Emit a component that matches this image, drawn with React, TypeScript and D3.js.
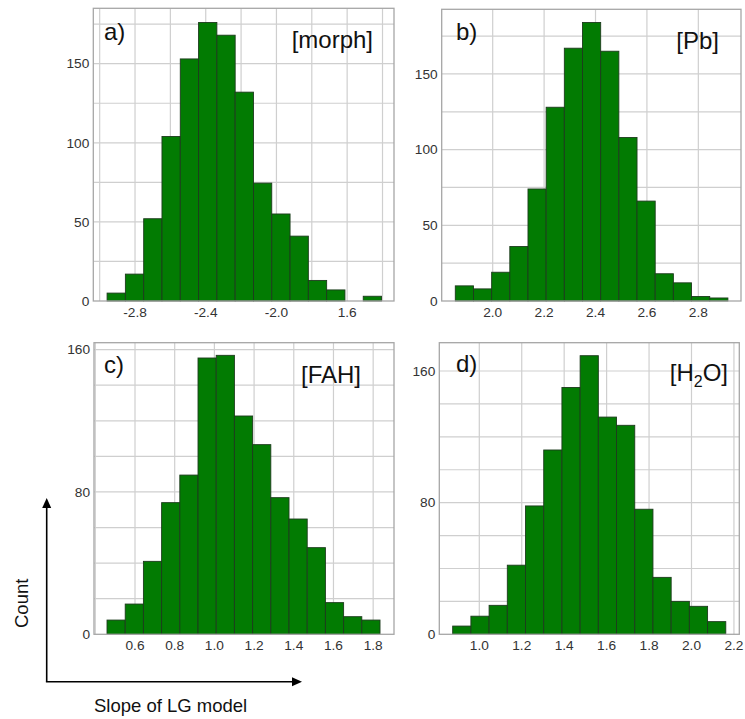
import React from "react";
import * as d3 from "d3";

// ---------- data ----------
const countsA = [5, 17, 52, 104, 153, 176, 168, 132, 74.5, 55, 41, 13, 7, 0, 3];
const binStartA = -2.958;
const binWidthA = 0.1035;
const xTicksA = [-2.8, -2.4, -2.0, -1.6];
const xTickLabelsA = ["-2.8", "-2.4", "-2.0", "1.6"];
const yTicksA = [0, 50, 100, 150];

const countsB = [10, 8, 19, 36, 74, 128, 167, 184, 165, 108, 66, 18, 12, 3, 2];
const binStartB = 1.8545;
const binWidthB = 0.0707;
const xTicksB = [2.0, 2.2, 2.4, 2.6, 2.8];
const xTickLabelsB = ["2.0", "2.2", "2.4", "2.6", "2.8"];
const yTicksB = [0, 50, 100, 150];

const countsC = [8, 17, 41, 74, 89.5, 155.3, 156.8, 122.7, 106.6, 76.8, 64.8, 48.7, 17.8, 9.9, 8];
const binStartC = 0.459;
const binWidthC = 0.0917;
const xTicksC = [0.6, 0.8, 1.0, 1.2, 1.4, 1.6, 1.8];
const xTickLabelsC = ["0.6", "0.8", "1.0", "1.2", "1.4", "1.6", "1.8"];
const yTicksC = [0, 80, 160];

const countsD = [5, 11, 17.6, 42, 78, 112, 150, 169.3, 132, 127, 76, 34.6, 20, 17, 7.7];
const binStartD = 0.8746;
const binWidthD = 0.0858;
const xTicksD = [1.0, 1.2, 1.4, 1.6, 1.8, 2.0, 2.2];
const xTickLabelsD = ["1.0", "1.2", "1.4", "1.6", "1.8", "2.0", "2.2"];
const yTicksD = [0, 80, 160];

const panelLetters = ["a)", "b)", "c)", "d)"];
const xAxisTitle = "Slope of LG model";
const yAxisTitle = "Count";

// ---------- layout ----------
const W = 745;
const H = 719;
const FONT = "'Liberation Sans', Arial, sans-serif";
const BAR_FILL = "#027b02";
const BAR_STROKE = "#1d3b1d";
const GRID = "#cfcfcf";
const FRAME = "#a6a6a6";

type PanelCfg = {
  left: number; right: number; top: number; bottom: number;
  xDomain: [number, number]; yMax: number;
  counts: number[]; binStart: number; binWidth: number;
  xTicks: number[]; xTickLabels: string[]; yTicks: number[];
  xGridStep: number; yGridStep: number;
  letter: string; letterX: number; letterY: number;
  tag: React.ReactNode; tagX: number; tagY: number;
};

function Panel({ c }: { c: PanelCfg }) {
  const x = d3.scaleLinear().domain(c.xDomain).range([c.left, c.right]);
  const y = d3.scaleLinear().domain([0, c.yMax]).range([c.bottom, c.top]);
  const xGrid = d3.range(
    Math.ceil(c.xDomain[0] / c.xGridStep - 1e-6) * c.xGridStep,
    c.xDomain[1] + 1e-9,
    c.xGridStep
  );
  const yGrid = d3.range(c.yGridStep, c.yMax, c.yGridStep);
  const bins = c.counts.map((v, i) => ({
    x0: c.binStart + i * c.binWidth,
    x1: c.binStart + (i + 1) * c.binWidth,
    v,
  }));
  return (
    <g>
      {xGrid.map((g, i) => (
        <line key={"xg" + i} x1={x(g)} x2={x(g)} y1={c.top} y2={c.bottom} stroke={GRID} strokeWidth={1.2} />
      ))}
      {yGrid.map((g, i) => (
        <line key={"yg" + i} x1={c.left} x2={c.right} y1={y(g)} y2={y(g)} stroke={GRID} strokeWidth={1.2} />
      ))}
      {bins.filter((b) => b.v > 0).map((b, i) => (
        <rect
          key={"b" + i}
          x={x(b.x0)}
          y={y(b.v)}
          width={x(b.x1) - x(b.x0)}
          height={y(0) - y(b.v)}
          fill={BAR_FILL}
          stroke={BAR_STROKE}
          strokeWidth={0.9}
        />
      ))}
      <rect x={c.left} y={c.top} width={c.right - c.left} height={c.bottom - c.top} fill="none" stroke={FRAME} strokeWidth={1.3} />
      {c.xTicks.map((t, i) => (
        <text key={"xt" + i} x={x(t)} y={c.bottom + 16} textAnchor="middle" fontSize={13.7} fill="#333" fontFamily={FONT}>
          {c.xTickLabels[i]}
        </text>
      ))}
      {c.yTicks.map((t, i) => (
        <text key={"yt" + i} x={c.left - 4} y={y(t)} dy="0.35em" textAnchor="end" fontSize={13.7} fill="#333" fontFamily={FONT}>
          {t}
        </text>
      ))}
      <text x={c.letterX} y={c.letterY} fontSize={24} fill="#111" fontFamily={FONT}>{c.letter}</text>
      <text x={c.tagX} y={c.tagY} fontSize={24} fill="#111" fontFamily={FONT} textAnchor="end">{c.tag}</text>
    </g>
  );
}

export default function App() {
  const panels: PanelCfg[] = [
    {
      left: 93.3, right: 394, top: 8.3, bottom: 301,
      xDomain: [-3.036, -1.335], yMax: 185,
      counts: countsA, binStart: binStartA, binWidth: binWidthA,
      xTicks: xTicksA, xTickLabels: xTickLabelsA, yTicks: yTicksA,
      xGridStep: 0.2, yGridStep: 25,
      letter: panelLetters[0], letterX: 104, letterY: 40,
      tag: "[morph]", tagX: 373, tagY: 48,
    },
    {
      left: 441.7, right: 741, top: 9.3, bottom: 301,
      xDomain: [1.8016, 2.966], yMax: 192.7,
      counts: countsB, binStart: binStartB, binWidth: binWidthB,
      xTicks: xTicksB, xTickLabels: xTickLabelsB, yTicks: yTicksB,
      xGridStep: 0.2, yGridStep: 25,
      letter: panelLetters[1], letterX: 456, letterY: 40,
      tag: "[Pb]", tagX: 719, tagY: 49,
    },
    {
      left: 94, right: 394, top: 342.7, bottom: 634.3,
      xDomain: [0.3934, 1.905], yMax: 163.9,
      counts: countsC, binStart: binStartC, binWidth: binWidthC,
      xTicks: xTicksC, xTickLabels: xTickLabelsC, yTicks: yTicksC,
      xGridStep: 0.2, yGridStep: 20,
      letter: panelLetters[2], letterX: 104, letterY: 373,
      tag: "[FAH]", tagX: 361, tagY: 383,
    },
    {
      left: 439.3, right: 739.3, top: 342.7, bottom: 634.3,
      xDomain: [0.8115, 2.2253], yMax: 177.2,
      counts: countsD, binStart: binStartD, binWidth: binWidthD,
      xTicks: xTicksD, xTickLabels: xTickLabelsD, yTicks: yTicksD,
      xGridStep: 0.2, yGridStep: 20,
      letter: panelLetters[3], letterX: 456, letterY: 372,
      tag: (
        <>
          <tspan>[H</tspan>
          <tspan fontSize={16} dy={6}>2</tspan>
          <tspan dy={-6}>O]</tspan>
        </>
      ),
      tagX: 728, tagY: 381,
    },
  ];

  const ax = 46.7;
  const ay = 681.7;
  const yTip = 498;
  const xTip = 302;

  return (
    <svg width={W} height={H} style={{ position: "absolute", left: 0, top: 0, background: "#fff" }}>
      <rect x={0} y={0} width={W} height={H} fill="#fff" />
      {panels.map((p, i) => (
        <Panel key={i} c={p} />
      ))}
      {/* axis arrows */}
      <line x1={ax} y1={ay} x2={ax} y2={yTip + 8} stroke="#000" strokeWidth={1.6} />
      <path d={`M${ax},${yTip} L${ax - 4.5},${yTip + 10} L${ax + 4.5},${yTip + 10} Z`} fill="#000" />
      <line x1={ax - 0.8} y1={ay} x2={xTip - 8} y2={ay} stroke="#000" strokeWidth={1.6} />
      <path d={`M${xTip},${ay} L${xTip - 10},${ay - 4.5} L${xTip - 10},${ay + 4.5} Z`} fill="#000" />
      <text x={0} y={0} transform={`translate(28.3,603.3) rotate(-90)`} textAnchor="middle" fontSize={18.5} fill="#111" fontFamily={FONT}>
        {yAxisTitle}
      </text>
      <text x={94} y={711.5} fontSize={18.5} fill="#111" fontFamily={FONT}>
        {xAxisTitle}
      </text>
    </svg>
  );
}
